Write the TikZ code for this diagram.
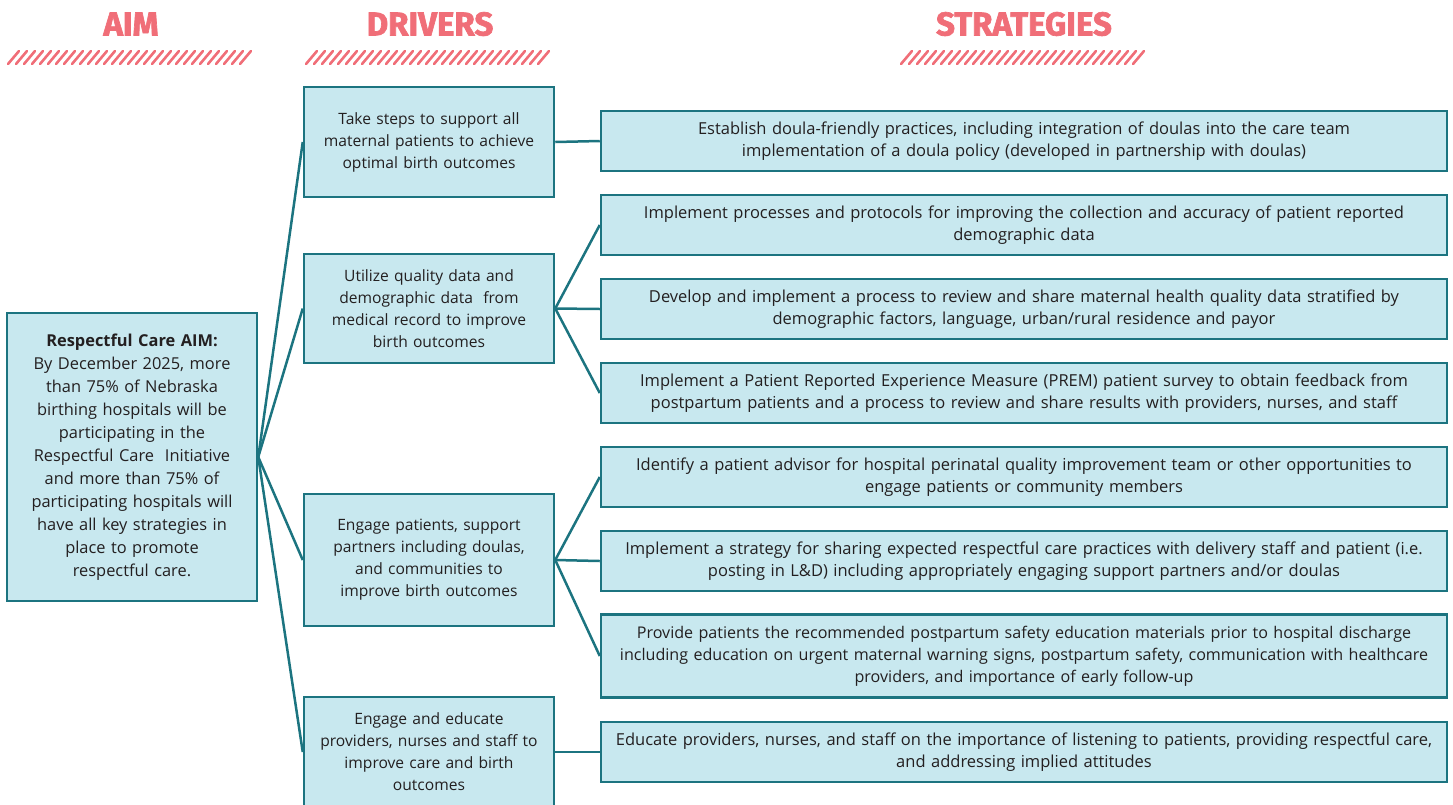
\documentclass[tikz,border=0pt]{standalone}
\usepackage{fontspec}
\setmainfont{Open Sans}
\newfontfamily\headfont[FakeBold=2]{Fira Sans}
\definecolor{boxfill}{HTML}{C8E8EF}
\definecolor{boxline}{HTML}{1C7480}
\definecolor{coral}{HTML}{F06E78}
\definecolor{inktext}{HTML}{231F20}

\begin{document}
\begin{tikzpicture}[x=1pt, y=-1pt,
    box/.style={draw=boxline, fill=boxfill, line width=2.5pt, align=center,
        inner sep=0pt, text=inktext, font=\fontsize{16.5}{22}\selectfont},
    drv/.style={box, minimum width=250pt, text width=246pt, font=\fontsize{15.6}{22}\selectfont},
    strat/.style={box, minimum width=846pt, minimum height=60pt, text width=840pt},
    link/.style={draw=boxline, line width=2.5pt},
    heading/.style={text=coral, font=\headfont\bfseries\fontsize{33}{33}\selectfont}]

    \useasboundingbox (0,0) rectangle (1453,804);

    % headings and hatched bars
    \node[heading] (haim) at (131,24) {AIM};
    \node[heading] (hdrv) at (430,24) {DRIVERS};
    \node[heading] (hstr) at (1024,24) {STRATEGIES};
    \foreach \xa in {8, 306, 901} {
        \foreach \x in {0,8,...,236}
            \draw[coral, line width=2.6pt, line cap=round] (\xa+\x,64) -- (\xa+\x+11,51);
    }

    % aim
    \node[box, minimum width=250pt, minimum height=288pt, text width=246pt,
        font=\fontsize{16.4}{23}\selectfont] (aim) at (132,457)
        {\textbf{Respectful Care AIM:}\\ By December 2025, more\\ than 75\% of Nebraska\\
         birthing hospitals will be\\ participating in the\\ Respectful Care\ \ Initiative\\
         and more than 75\% of\\ participating hospitals will\\ have all key strategies in\\
         place to promote\\ respectful care.};

    % drivers
    \node[drv, minimum height=110pt] (d1) at (429,142)
        {Take steps to support all\\ maternal patients to achieve\\ optimal birth outcomes};
    \node[drv, minimum height=109pt] (d2) at (429,308.5)
        {Utilize quality data and\\ demographic data\ \ from\\ medical record to improve\\ birth outcomes};
    \node[drv, minimum height=132pt] (d3) at (429,560)
        {Engage patients, support\\ partners including doulas,\\ and communities to\\ improve birth outcomes};
    \node[drv, minimum height=110pt] (d4) at (429,752)
        {Engage and educate\\ providers, nurses and staff to\\ improve care and birth\\ outcomes};

    % strategies
    \node[strat] (s1) at (1024,141)
        {Establish doula-friendly practices, including integration of doulas into the care team\\
         implementation of a doula policy (developed in partnership with doulas)};
    \node[strat] (s2) at (1024,225)
        {Implement processes and protocols for improving the collection and accuracy of patient reported\\
         demographic data};
    \node[strat] (s3) at (1024,309)
        {Develop and implement a process to review and share maternal health quality data stratified by\\
         demographic factors, language, urban/rural residence and payor};
    \node[strat] (s4) at (1024,393)
        {Implement a Patient Reported Experience Measure (PREM) patient survey to obtain feedback from\\
         postpartum patients and a process to review and share results with providers, nurses, and staff};
    \node[strat] (s5) at (1024,477)
        {Identify a patient advisor for hospital perinatal quality improvement team or other opportunities to\\
         engage patients or community members};
    \node[strat] (s6) at (1024,561)
        {Implement a strategy for sharing expected respectful care practices with delivery staff and patient (i.e.\\
         posting in L\&D) including appropriately engaging support partners and/or doulas};
    \node[strat, minimum height=83pt, font=\fontsize{16.1}{22}\selectfont] (s7) at (1024,656)
        {Provide patients the recommended postpartum safety education materials prior to hospital discharge\\
         including education on urgent maternal warning signs, postpartum safety, communication with healthcare\\
         providers, and importance of early follow-up};
    \node[strat] (s8) at (1024,752)
        {Educate providers, nurses, and staff on the importance of listening to patients, providing respectful care,\\
         and addressing implied attitudes};

    % connectors
    \foreach \d in {d1,d2,d3,d4}
        \draw[link] (aim.east) -- (\d.west);
    \draw[link] (d1.east) -- (s1.west);
    \foreach \s in {s2,s3,s4}
        \draw[link] (d2.east) -- (\s.west);
    \foreach \s in {s5,s6,s7}
        \draw[link] (d3.east) -- (\s.west);
    \draw[link] (d4.east) -- (s8.west);

\end{tikzpicture}
\end{document}
